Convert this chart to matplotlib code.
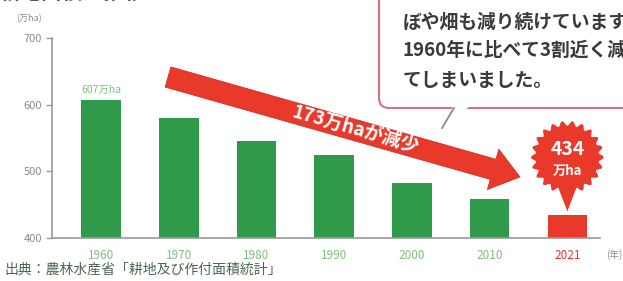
import numpy as np
import matplotlib.pyplot as plt
from matplotlib.patches import FancyArrow, FancyBboxPatch, Polygon

plt.rcParams['font.family'] = ['Noto Sans CJK JP', 'DejaVu Sans']

# data
years = ['1960', '1970', '1980', '1990', '2000', '2010', '2021']
area = [607, 580, 546, 524, 483, 459, 434]   # 万ha
yticks = [400, 500, 600, 700]

green = '#2f9a4a'
light_green = '#7cc27f'
red = '#e9392b'
gray = '#8a8a8a'

fig = plt.figure(figsize=(6.23, 2.81), dpi=100)
ax = fig.add_axes([52 / 623, 1 - 238 / 281, 548 / 623, 200 / 281])

x = np.arange(len(years))
colors = [green] * (len(years) - 1) + [red]
ax.bar(x, area, width=0.51, color=colors, zorder=2)
ax.set_ylim(400, 700)
ax.set_xlim(-0.63, 6.42)
ax.set_yticks(yticks)
ax.set_yticklabels([str(v) for v in yticks], color=gray, fontsize=8)
ax.set_xticks(x)
ax.set_xticklabels(years, fontsize=8.5)
for lab, c in zip(ax.get_xticklabels(), [light_green] * 6 + [red]):
    lab.set_color(c)
ax.tick_params(axis='x', length=0, pad=8)
ax.tick_params(axis='y', length=4, width=1, color='#999999', pad=3)
for s in ['top', 'right']:
    ax.spines[s].set_visible(False)
for s in ['left', 'bottom']:
    ax.spines[s].set_color('#999999')
    ax.spines[s].set_linewidth(1.2)

ax.text(0, area[0] + 8, f'{area[0]}万ha', ha='center', va='bottom',
        color=light_green, fontsize=7.5)

# overlay in pixel coords for the decorations
ov = fig.add_axes([0, 0, 1, 1], zorder=5)
ov.set_xlim(0, 623)
ov.set_ylim(281, 0)
ov.axis('off')


def to_px(xd, yd):
    px, py = ax.transData.transform((xd, yd))
    return px, 281 - py


# partial title cut off at top
ov.text(0, -8, '耕地面積の推移', fontsize=15, fontweight='bold', color='#555555',
        ha='left', va='center')
ov.text(16, 19, '(万ha)', fontsize=6.5, color=gray, ha='left', va='center')
ov.text(606, 255, '(年)', fontsize=7, color=gray, ha='left', va='center')
ov.text(4, 270, '出典：農林水産省「耕地及び作付面積統計」', fontsize=10,
        color='#4d6650', ha='left', va='center')

# speech bubble
bub = FancyBboxPatch((379, -40), 300, 148, boxstyle='round,pad=0,rounding_size=10',
                     facecolor='white', edgecolor='#d5737c', lw=1.5, zorder=3)
ov.add_patch(bub)
ov.add_patch(Polygon([(453, 106), (470, 106), (446, 126)], closed=True,
                     facecolor='white', edgecolor='none', zorder=4))
ov.plot([454, 442], [108, 128], color='#8a8a8a', lw=1.3, zorder=4)
bubble_lines = ['ぼや畑も減り続けています。', '1960年に比べて3割近く減っ', 'てしまいました。']
for i, line in enumerate(bubble_lines):
    ov.text(403, [22, 50, 81][i], line, fontsize=13.5, fontweight='bold',
            color='#3a3a3a', ha='left', va='center', zorder=5)

# red arrow
x0, y0 = 168, 77
x1, y1 = 520, 177
arr = FancyArrow(x0, y0, x1 - x0, y1 - y0, width=21, head_width=42,
                 head_length=28, length_includes_head=True, color=red,
                 ec='#c82a20', lw=0.5, zorder=4)
ov.add_patch(arr)
ang = np.degrees(np.arctan2(y1 - y0, x1 - x0))
tx = 356
ty = y0 + (tx - x0) * (y1 - y0) / (x1 - x0)
decrease = area[0] - area[-1]
ov.text(tx, ty - 1, f'{decrease}万haが減少', rotation=-ang, rotation_mode='anchor',
        ha='center', va='center', color='white', fontsize=13.5,
        fontweight='bold', zorder=6)

# starburst label over the 2021 bar
bx, by = to_px(6, area[-1])
cx, cy = bx, by - 58
n = 22
t = np.linspace(0, 2 * np.pi, 8 * n, endpoint=False)
r = 34 + 2.5 * np.cos(n * t)
star = Polygon(np.column_stack([cx + r * np.cos(t), cy + r * np.sin(t)]),
               closed=True, facecolor=red, edgecolor='none', zorder=4)
ov.add_patch(star)
ov.add_patch(Polygon([(cx - 10, cy + 28), (cx + 10, cy + 28), (cx, by - 4)],
                     closed=True, facecolor=red, edgecolor='none', zorder=4))
ov.text(cx, cy - 8, str(area[-1]), color='white', fontsize=14, fontweight='bold',
        ha='center', va='center', zorder=6)
ov.text(cx, cy + 14, '万ha', color='white', fontsize=9.5, fontweight='bold',
        ha='center', va='center', zorder=6)

fig.savefig('out.png', dpi=100)
